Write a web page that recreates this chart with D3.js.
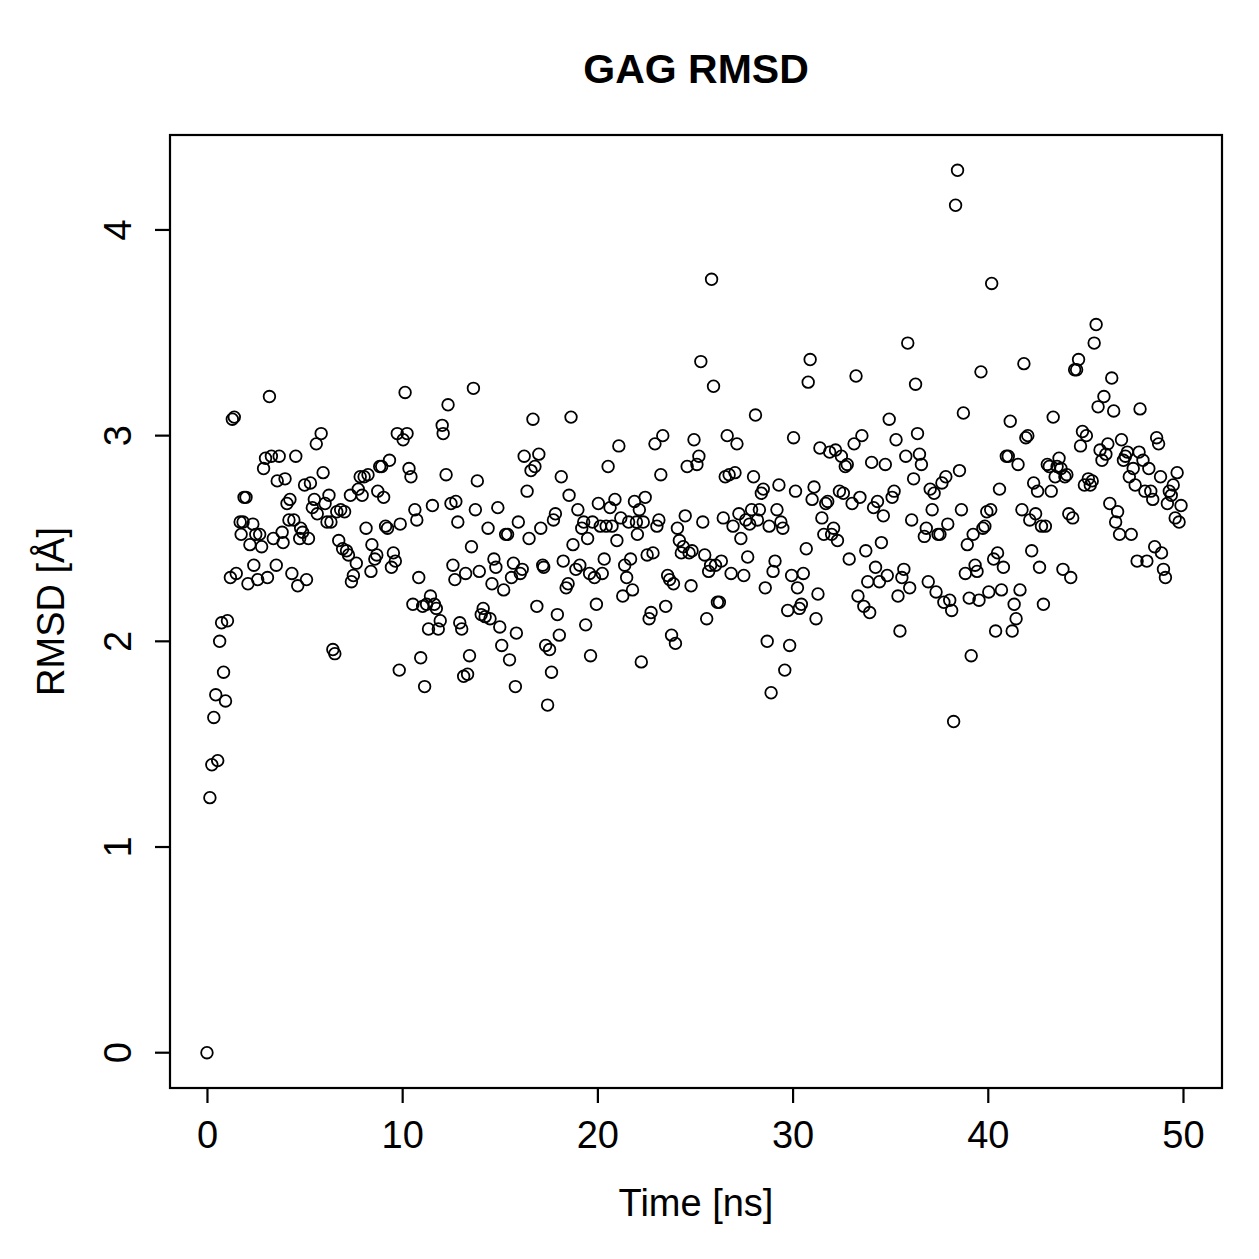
<!DOCTYPE html>
<html>
<head>
<meta charset="utf-8">
<script src="https://cdn.jsdelivr.net/npm/d3@7"></script>
<style>
  body { margin: 0; background: #fff; }
  text { font-family: "Liberation Sans", Arial, Helvetica, sans-serif; }
</style>
</head>
<body>
<div id="chart"></div>
<script>
const chartTitle = 'GAG RMSD';
const xLabel = 'Time [ns]';
const yLabel = 'RMSD [Å]';
const xTicks = [0, 10, 20, 30, 40, 50];
const yTicks = [0, 1, 2, 3, 4];

// time (ns) and RMSD (Å)
const time = [
  0, 0.15, 0.25, 0.55, 0.35, 0.45, 0.95, 0.85, 0.65, 0.75, 1.05, 1.2, 1.5, 1.3, 1.4, 1.75, 1.7, 1.85, 1.9, 2.0,
  2.1, 2.2, 2.35, 2.4, 2.5, 2.6, 2.7, 2.8, 2.9, 3.0, 3.1, 3.2, 3.3, 3.4, 3.55, 3.6, 3.7, 3.85, 3.9, 4.0,
  4.1, 4.2, 4.25, 4.35, 4.45, 4.55, 4.65, 4.75, 4.8, 4.9, 5.0, 5.1, 5.2, 5.3, 5.4, 5.5, 5.6, 5.65, 5.85, 5.95,
  6.05, 6.15, 6.25, 6.35, 6.45, 6.55, 6.65, 6.75, 6.85, 6.95, 7.05, 7.15, 7.25, 7.35, 7.4, 7.5, 7.65, 7.75, 7.85, 7.95,
  8.05, 8.15, 8.25, 8.4, 8.45, 8.6, 8.7, 8.75, 8.85, 8.95, 9.05, 9.15, 9.25, 9.35, 9.45, 9.55, 9.65, 9.75, 9.85, 9.9,
  10.05, 10.15, 10.25, 10.35, 10.45, 10.55, 10.65, 10.75, 10.85, 10.95, 11.05, 11.15, 11.25, 11.35, 11.45, 11.55, 11.65, 11.75, 11.85, 11.95,
  12.05, 12.1, 12.25, 12.35, 12.5, 12.6, 12.7, 12.75, 12.85, 12.95, 13.05, 13.15, 13.25, 13.35, 13.45, 13.55, 13.65, 13.75, 13.85, 13.95,
  14.05, 14.15, 14.25, 14.4, 14.5, 14.6, 14.7, 14.8, 14.9, 15.0, 15.1, 15.2, 15.3, 15.4, 15.5, 15.6, 15.7, 15.8, 15.85, 15.95,
  16.05, 16.15, 16.25, 16.4, 16.5, 16.6, 16.7, 16.8, 16.9, 17.0, 17.1, 17.2, 17.25, 17.35, 17.45, 17.55, 17.65, 17.75, 17.85, 17.95,
  18.05, 18.15, 18.25, 18.4, 18.5, 18.55, 18.65, 18.75, 18.9, 19.0, 19.1, 19.2, 19.3, 19.4, 19.5, 19.6, 19.65, 19.75, 19.85, 19.95,
  20.05, 20.15, 20.25, 20.35, 20.45, 20.55, 20.65, 20.75, 20.9, 21.0, 21.1, 21.2, 21.3, 21.4, 21.5, 21.6, 21.7, 21.8, 21.9, 22.0,
  22.05, 22.15, 22.25, 22.35, 22.45, 22.55, 22.65, 22.75, 22.85, 22.95, 23.05, 23.15, 23.25, 23.35, 23.5, 23.6, 23.7, 23.8, 23.9, 24.0,
  24.1, 24.2, 24.3, 24.4, 24.5, 24.6, 24.7, 24.8, 24.85, 24.95, 25.1, 25.2, 25.3, 25.4, 25.5, 25.6, 25.7, 25.8, 25.85, 25.95,
  26.05, 26.15, 26.25, 26.35, 26.45, 26.55, 26.65, 26.75, 26.85, 26.95, 27.05, 27.15, 27.25, 27.35, 27.5, 27.6, 27.7, 27.8, 27.9, 28.0,
  28.1, 28.2, 28.3, 28.4, 28.5, 28.6, 28.7, 28.8, 28.9, 29.0, 29.1, 29.2, 29.3, 29.4, 29.5, 29.6, 29.75, 29.85, 29.95, 30.05,
  30.15, 30.25, 30.35, 30.45, 30.55, 30.7, 30.8, 30.9, 31.0, 31.1, 31.2, 31.3, 31.4, 31.5, 31.6, 31.7, 31.8, 31.9, 32.0, 32.1,
  32.2, 32.3, 32.4, 32.5, 32.6, 32.7, 32.8, 32.9, 33.05, 33.15, 33.25, 33.35, 33.45, 33.55, 33.65, 33.75, 33.85, 33.95, 34.05, 34.15,
  34.25, 34.35, 34.45, 34.55, 34.65, 34.75, 34.85, 34.95, 35.1, 35.2, 35.3, 35.4, 35.5, 35.6, 35.7, 35.8, 35.9, 36.0, 36.1, 36.2,
  36.3, 36.4, 36.5, 36.6, 36.75, 36.85, 36.95, 37.05, 37.15, 37.25, 37.35, 37.45, 37.55, 37.65, 37.75, 37.85, 37.95, 38.05, 38.15, 38.25,
  38.35, 38.45, 38.55, 38.65, 38.75, 38.85, 38.95, 39.05, 39.15, 39.25, 39.35, 39.45, 39.55, 39.65, 39.75, 39.85, 39.95, 40.05, 40.15, 40.2,
  40.3, 40.4, 40.5, 40.6, 40.7, 40.8, 40.95, 41.05, 41.15, 41.25, 41.35, 41.45, 41.55, 41.65, 41.75, 41.85, 41.95, 42.05, 42.15, 42.25,
  42.35, 42.45, 42.55, 42.65, 42.75, 42.85, 42.95, 43.05, 43.15, 43.25, 43.35, 43.45, 43.55, 43.65, 43.75, 43.85, 43.95, 44.05, 44.15, 44.25,
  44.35, 44.45, 44.55, 44.65, 44.75, 44.85, 44.95, 45.05, 45.15, 45.25, 45.35, 45.45, 45.55, 45.65, 45.75, 45.85, 45.95, 46.05, 46.15, 46.25,
  46.35, 46.45, 46.55, 46.65, 46.75, 46.85, 46.95, 47.05, 47.15, 47.25, 47.35, 47.45, 47.55, 47.65, 47.75, 47.8, 47.95, 48.05, 48.15, 48.25,
  48.35, 48.45, 48.55, 48.65, 48.75, 48.85, 48.9, 49.0, 49.1, 49.2, 49.3, 49.4, 49.5, 49.6, 49.7, 49.8, 49.9
];
const rmsd = [
  0.00, 1.24, 1.40, 1.42, 1.63, 1.74, 1.71, 1.85, 2.00, 2.09, 2.10, 2.31, 2.33, 3.08, 3.09, 2.52, 2.58, 2.58, 2.70, 2.70,
  2.28, 2.47, 2.57, 2.37, 2.52, 2.30, 2.52, 2.46, 2.84, 2.89, 2.31, 3.19, 2.90, 2.50, 2.37, 2.78, 2.90, 2.53, 2.48, 2.79,
  2.67, 2.59, 2.69, 2.33, 2.59, 2.90, 2.27, 2.50, 2.55, 2.53, 2.76, 2.30, 2.50, 2.77, 2.65, 2.69, 2.96, 2.62, 3.01, 2.82,
  2.67, 2.58, 2.71, 2.58, 1.96, 1.94, 2.63, 2.49, 2.64, 2.45, 2.63, 2.44, 2.42, 2.71, 2.29, 2.32, 2.38, 2.74, 2.80, 2.71,
  2.80, 2.55, 2.81, 2.34, 2.47, 2.40, 2.42, 2.73, 2.85, 2.85, 2.70, 2.56, 2.55, 2.88, 2.36, 2.43, 2.39, 3.01, 1.86, 2.57,
  2.98, 3.21, 3.01, 2.84, 2.80, 2.18, 2.64, 2.59, 2.31, 1.92, 2.17, 1.78, 2.18, 2.06, 2.22, 2.66, 2.18, 2.16, 2.06, 2.10,
  3.05, 3.01, 2.81, 3.15, 2.67, 2.37, 2.30, 2.68, 2.58, 2.09, 2.06, 1.83, 2.33, 1.84, 1.93, 2.46, 3.23, 2.64, 2.78, 2.34,
  2.13, 2.16, 2.12, 2.55, 2.11, 2.28, 2.40, 2.36, 2.65, 2.07, 1.98, 2.25, 2.52, 2.52, 1.91, 2.31, 2.38, 1.78, 2.04, 2.58,
  2.33, 2.35, 2.90, 2.73, 2.50, 2.83, 3.08, 2.85, 2.17, 2.91, 2.55, 2.37, 2.36, 1.98, 1.69, 1.96, 1.85, 2.59, 2.62, 2.13,
  2.03, 2.80, 2.39, 2.26, 2.28, 2.71, 3.09, 2.47, 2.35, 2.64, 2.37, 2.55, 2.58, 2.08, 2.50, 2.33, 1.93, 2.58, 2.31, 2.18,
  2.67, 2.56, 2.33, 2.40, 2.56, 2.85, 2.65, 2.56, 2.69, 2.49, 2.95, 2.60, 2.22, 2.37, 2.31, 2.58, 2.40, 2.25, 2.68, 2.58,
  2.52, 2.64, 1.90, 2.58, 2.70, 2.42, 2.11, 2.14, 2.43, 2.96, 2.56, 2.59, 2.81, 3.00, 2.17, 2.32, 2.30, 2.03, 2.28, 1.99,
  2.55, 2.49, 2.43, 2.46, 2.61, 2.85, 2.43, 2.27, 2.44, 2.98, 2.86, 2.90, 3.36, 2.58, 2.42, 2.11, 2.34, 2.37, 3.76, 3.24,
  2.37, 2.19, 2.19, 2.39, 2.60, 2.80, 3.00, 2.81, 2.33, 2.56, 2.82, 2.96, 2.62, 2.50, 2.32, 2.59, 2.41, 2.57, 2.64, 2.80,
  3.10, 2.59, 2.64, 2.72, 2.74, 2.26, 2.00, 2.56, 1.75, 2.34, 2.39, 2.64, 2.76, 2.58, 2.55, 1.86, 2.15, 1.98, 2.32, 2.99,
  2.73, 2.26, 2.16, 2.18, 2.33, 2.45, 3.26, 3.37, 2.69, 2.75, 2.11, 2.23, 2.94, 2.60, 2.52, 2.67, 2.68, 2.92, 2.52, 2.55,
  2.93, 2.49, 2.73, 2.90, 2.72, 2.85, 2.86, 2.40, 2.67, 2.96, 3.29, 2.22, 2.70, 3.00, 2.17, 2.44, 2.29, 2.14, 2.87, 2.65,
  2.36, 2.68, 2.29, 2.48, 2.61, 2.86, 2.32, 3.08, 2.70, 2.73, 2.98, 2.22, 2.05, 2.31, 2.35, 2.90, 3.45, 2.26, 2.59, 2.79,
  3.25, 3.01, 2.91, 2.86, 2.51, 2.55, 2.29, 2.74, 2.64, 2.72, 2.24, 2.52, 2.52, 2.77, 2.19, 2.80, 2.57, 2.20, 2.15, 1.61,
  4.12, 4.29, 2.83, 2.64, 3.11, 2.33, 2.47, 2.21, 1.93, 2.52, 2.37, 2.34, 2.20, 3.31, 2.55, 2.56, 2.63, 2.24, 2.64, 3.74,
  2.40, 2.05, 2.43, 2.74, 2.25, 2.36, 2.90, 2.90, 3.07, 2.05, 2.18, 2.11, 2.86, 2.25, 2.64, 3.35, 2.99, 3.00, 2.59, 2.44,
  2.77, 2.62, 2.73, 2.36, 2.56, 2.18, 2.56, 2.86, 2.85, 2.73, 3.09, 2.80, 2.85, 2.89, 2.84, 2.35, 2.80, 2.81, 2.62, 2.31,
  2.60, 3.32, 3.32, 3.37, 2.95, 3.02, 2.76, 3.00, 2.79, 2.76, 2.78, 3.45, 3.54, 3.14, 2.93, 2.88, 3.19, 2.91, 2.96, 2.67,
  3.28, 3.12, 2.58, 2.63, 2.52, 2.98, 2.88, 2.90, 2.92, 2.80, 2.52, 2.84, 2.76, 2.39, 2.92, 3.13, 2.88, 2.73, 2.39, 2.84,
  2.73, 2.69, 2.46, 2.99, 2.96, 2.80, 2.43, 2.35, 2.31, 2.67, 2.73, 2.71, 2.76, 2.60, 2.82, 2.58, 2.66
];

const width = 1259;
const height = 1259;
const margin = { top: 135, right: 37, bottom: 171, left: 170 };

const data = time.map((t, i) => ({ t: t, v: rmsd[i] }));

// R style range: extend 4% on each side
function padded(ext) {
  const d = (ext[1] - ext[0]) * 0.04;
  return [ext[0] - d, ext[1] + d];
}

const svg = d3.select('#chart')
  .append('svg')
  .attr('width', width)
  .attr('height', height);

const x = d3.scaleLinear()
  .domain(padded(d3.extent(time)))
  .range([margin.left - 2, width - margin.right - 2]);

const y = d3.scaleLinear()
  .domain(padded(d3.extent(rmsd)))
  .range([height - margin.bottom, margin.top]);

// points
svg.append('g')
  .selectAll('circle')
  .data(data)
  .join('circle')
  .attr('cx', d => x(d.t))
  .attr('cy', d => y(d.v))
  .attr('r', 5.8)
  .attr('fill', 'none')
  .attr('stroke', '#000')
  .attr('stroke-width', 1.8);

// box
svg.append('rect')
  .attr('x', margin.left)
  .attr('y', margin.top)
  .attr('width', width - margin.left - margin.right)
  .attr('height', height - margin.top - margin.bottom)
  .attr('fill', 'none')
  .attr('stroke', '#000')
  .attr('stroke-width', 2.2);

function xAxis(g) {
  g.attr('transform', `translate(0,${height - margin.bottom})`)
    .call(d3.axisBottom(x).tickValues(xTicks).tickSize(15).tickPadding(18).tickFormat(d3.format('d')))
    .attr('font-size', '38px')
    .attr('font-family', 'Liberation Sans, Arial, sans-serif');
  g.select('.domain').remove();
  g.selectAll('line').attr('stroke-width', 2.2);
}

function yAxis(g) {
  g.attr('transform', `translate(${margin.left},0)`)
    .call(d3.axisLeft(y).tickValues(yTicks).tickSize(15).tickFormat(d3.format('d')))
    .attr('font-size', '38px')
    .attr('font-family', 'Liberation Sans, Arial, sans-serif');
  g.select('.domain').remove();
  g.selectAll('line').attr('stroke-width', 2.2);
  g.selectAll('text')
    .attr('x', null)
    .attr('dy', null)
    .attr('text-anchor', 'middle')
    .attr('transform', d => `translate(-39,${y(d)}) rotate(-90)`)
    .attr('y', 0);
  g.selectAll('.tick').attr('transform', null);
  g.selectAll('.tick line').attr('transform', d => `translate(0,${y(d)})`);
}

svg.append('g').call(xAxis);
svg.append('g').call(yAxis);

svg.append('text')
  .attr('x', (margin.left + width - margin.right) / 2)
  .attr('y', 83)
  .attr('text-anchor', 'middle')
  .attr('font-size', '41px')
  .attr('font-weight', 'bold')
  .text(chartTitle);

svg.append('text')
  .attr('x', (margin.left + width - margin.right) / 2)
  .attr('y', 1216)
  .attr('text-anchor', 'middle')
  .attr('font-size', '38px')
  .text(xLabel);

svg.append('text')
  .attr('transform', `translate(64,${(margin.top + height - margin.bottom) / 2}) rotate(-90)`)
  .attr('text-anchor', 'middle')
  .attr('font-size', '38px')
  .text(yLabel);
</script>
</body>
</html>
